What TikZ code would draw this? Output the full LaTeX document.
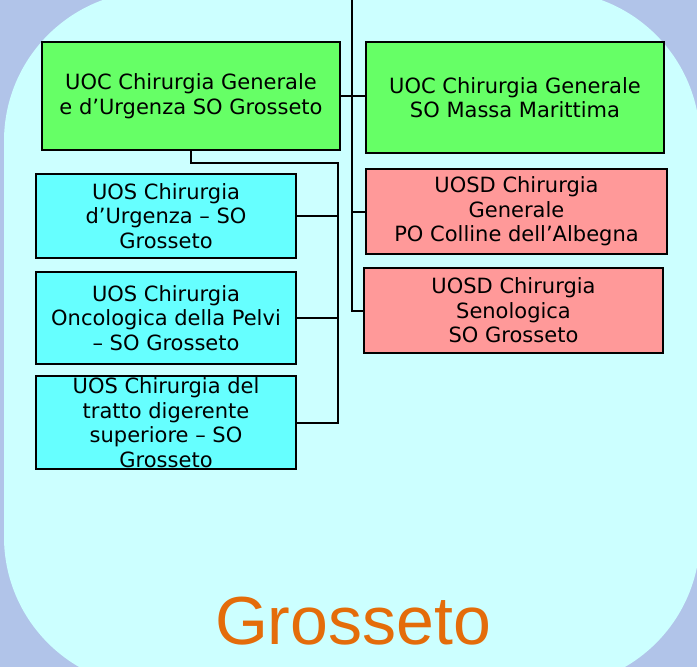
\documentclass[tikz,border=0pt]{standalone}
\usepackage{fontspec}
\setmainfont{DejaVu Sans}
\newfontfamily\titlefont{Liberation Sans}
\definecolor{bgblue}{HTML}{B1C4E9}
\definecolor{panelcyan}{HTML}{CCFFFF}
\definecolor{uocgreen}{HTML}{66FF66}
\definecolor{uoscyan}{HTML}{66FFFF}
\definecolor{uosdred}{HTML}{FF9999}
\definecolor{titleorange}{HTML}{E46C0A}

\begin{document}
\begin{tikzpicture}[x=1pt,y=-1pt,
    unit/.style={draw=black, line width=2pt, align=center, inner sep=0pt,
        font=\fontsize{21}{24.6}\selectfont},
    uoc/.style={unit, fill=uocgreen, minimum width=298pt},
    uos/.style={unit, fill=uoscyan, minimum width=260pt},
    uosd/.style={unit, fill=uosdred},
    link/.style={line width=2pt}]
    \useasboundingbox (0,0) rectangle (697,667);
    \fill[bgblue] (0,0) rectangle (697,667);
    \fill[panelcyan, rounded corners=150pt] (4,-9) rectangle (700,687);

    % UOC
    \node[uoc, minimum height=108pt] (gr) at (191,96) {UOC Chirurgia Generale\\e d’Urgenza SO Grosseto};
    \node[uoc, minimum height=111pt] (mm) at (515,97.5) {UOC Chirurgia Generale\\SO Massa Marittima};

    % UOS
    \node[uos, minimum height=84pt] (urg) at (166,216) {UOS Chirurgia\\d’Urgenza – SO\\Grosseto};
    \node[uos, minimum height=92pt] (pelvi) at (166,318) {UOS Chirurgia\\Oncologica della Pelvi\\– SO Grosseto};
    \node[uos, minimum height=93pt, inner ysep=-2pt] (dig) at (166,422.5) {UOS Chirurgia del\\tratto digerente\\superiore – SO\\Grosseto};

    % UOSD
    \node[uosd, minimum width=301pt, minimum height=85pt] (alb) at (516.5,211.5) {UOSD Chirurgia\\Generale\\PO Colline dell’Albegna};
    \node[uosd, minimum width=299pt, minimum height=85pt] (seno) at (513.5,310.5) {UOSD Chirurgia\\Senologica\\SO Grosseto};

    % connectors
    \coordinate (top) at (352,0);
    \coordinate (lbus) at (338,163);
    \draw[link] (top) |- (seno.west);
    \draw[link] (gr.east) -- (gr.east -| mm.west);
    \draw[link] (alb.west) -- (alb.west -| top);
    \draw[link] (gr.south) |- (lbus) |- (dig.east);
    \draw[link] (urg.east) -- (urg.east -| lbus);
    \draw[link] (pelvi.east) -- (pelvi.east -| lbus);

    \node[font=\titlefont\fontsize{68}{68}\selectfont, text=titleorange, anchor=base] (title) at (353,644) {Grosseto};
\end{tikzpicture}
\end{document}
